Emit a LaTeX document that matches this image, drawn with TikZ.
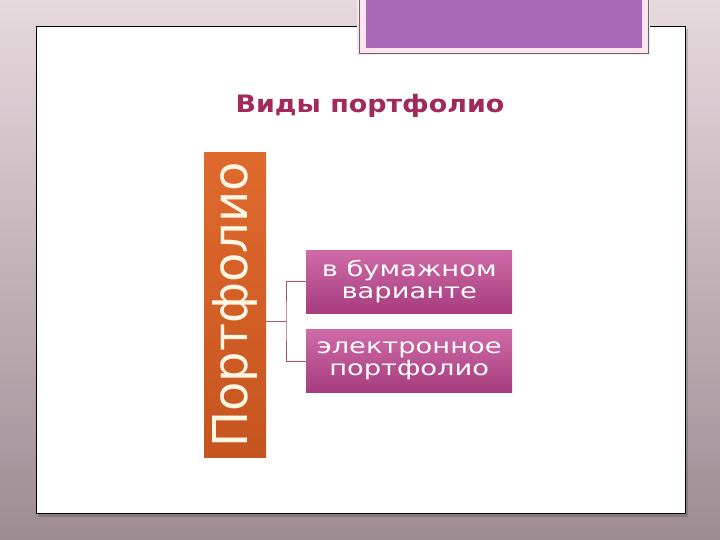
\documentclass[tikz,border=0pt]{standalone}
\usepackage{fontspec}
\setmainfont{DejaVu Sans}
\newfontfamily\widefont[FakeStretch=1.3]{DejaVu Sans}
\newfontfamily\titlefont[FakeStretch=1.12]{DejaVu Sans}
\usetikzlibrary{positioning}

\definecolor{bgtop}{HTML}{E6D9DE}
\definecolor{bgbot}{HTML}{9E8C93}
\definecolor{tabframe}{HTML}{FBE4F0}
\definecolor{tabfill}{HTML}{AA68B8}
\definecolor{titlecol}{HTML}{A2295C}
\definecolor{bartop}{HTML}{DF6A2D}
\definecolor{barbot}{HTML}{C6541F}
\definecolor{bartext}{HTML}{FFF6E4}
\definecolor{kindtop}{HTML}{CF6BA8}
\definecolor{kindbot}{HTML}{A63C7E}
\definecolor{linkcol}{HTML}{B0507F}

\tikzset{
  kindbox/.style={minimum width=206pt, minimum height=63pt, inner sep=0pt,
    top color=kindtop, bottom color=kindbot, text=white, align=center,
    font=\widefont\fontsize{21}{22}\selectfont},
  linkline/.style={draw=linkcol, line width=0.7pt}
}

\begin{document}
\begin{tikzpicture}[x=1pt,y=-1pt]
	\shade[top color=bgtop, bottom color=bgbot] (0,0) rectangle (720,540);
	\useasboundingbox (0,0) rectangle (720,540);
	
	\fill[black, opacity=0.15] (38,29) rectangle (688,517);
	\draw[fill=white, line width=0.8pt] (36,26) rectangle (685,513);
	
	\fill[tabframe] (357,0) rectangle (650,55);
	\draw[black!60, line width=0.8pt] (359,0) -- (359,53) -- (648,53) -- (648,0);
	\fill[tabfill] (366,0) rectangle (642,48);
	
	\node[text=titlecol, font=\titlefont\fontsize{24}{28}\selectfont\bfseries] (title) at (370,106) {Виды портфолио};
	
	\node[rotate=90, minimum width=304pt, minimum height=62pt, inner sep=0pt,
	top color=bartop, bottom color=barbot, text=bartext,
	font=\fontsize{48}{56}\selectfont] (bar) at (235,305) {Портфолио};
	
	\node[kindbox, anchor=north west] (paper) at (306,250) {в бумажном\\варианте};
	\node[kindbox, below=16pt of paper] (digital) {электронное\\портфолио};
	
	\coordinate (fork) at (286,321);
	\draw[linkline] (bar.south |- fork) -- (fork);
	\draw[linkline] (paper.west) -| (fork) |- (digital.west);
\end{tikzpicture}
\end{document}
